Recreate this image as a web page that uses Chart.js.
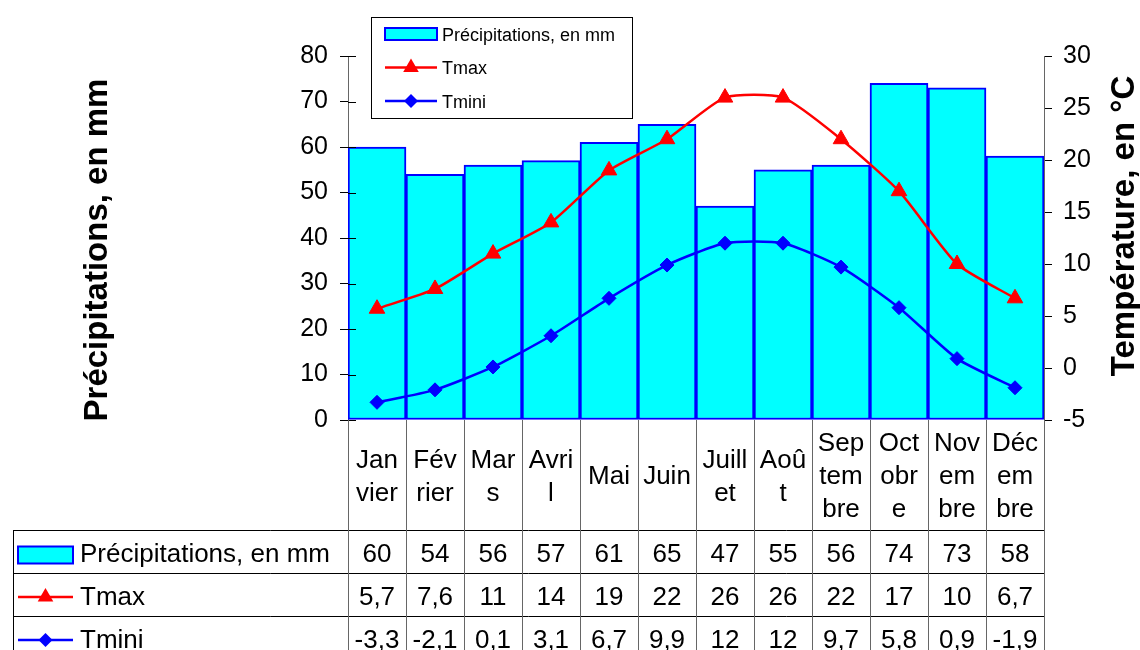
<!DOCTYPE html>
<html>
<head>
<meta charset="utf-8">
<script src="https://cdn.jsdelivr.net/npm/chart.js@4.4.1/dist/chart.umd.min.js"></script>
<style>
  html, body { margin: 0; padding: 0; background: #fff; overflow: hidden; }
  canvas { display: block; }
</style>
</head>
<body>
<canvas id="climat" width="1140" height="650"></canvas>
<script>
// Monthly climate normals
const months = ['Janvier', 'Février', 'Mars', 'Avril', 'Mai', 'Juin', 'Juillet', 'Août', 'Septembre', 'Octobre', 'Novembre', 'Décembre'];
// Month names as they wrap inside the narrow table columns
const monthLines = [['Jan', 'vier'], ['Fév', 'rier'], ['Mar', 's'], ['Avri', 'l'], ['Mai'], ['Juin'], ['Juill', 'et'], ['Aoû', 't'], ['Sep', 'tem', 'bre'], ['Oct', 'obr', 'e'], ['Nov', 'em', 'bre'], ['Déc', 'em', 'bre']];
const precipitations = [60, 54, 56, 57, 61, 65, 47, 55, 56, 74, 73, 58];
const tmax = [5.7, 7.6, 11, 14, 19, 22, 26, 26, 22, 17, 10, 6.7];
const tmini = [-3.3, -2.1, 0.1, 3.1, 6.7, 9.9, 12, 12, 9.7, 5.8, 0.9, -1.9];
const seriesNames = ['Précipitations, en mm', 'Tmax', 'Tmini'];
const precipRange = [0, 80, 10];
const tempRange = [-5, 30, 5];
const axisTitles = ['Précipitations, en mm', 'Température, en °C'];

const FONT = '"Liberation Sans", Arial, sans-serif';
const CYAN = '#00ffff', BLUE = '#0000ff', RED = '#ff0000';

function fmt(v) { return String(v).replace('.', ','); }

// Series keys (bar swatch, line + marker)
function drawKey(ctx, kind, x0, x1, y, h) {
  ctx.save();
  if (kind === 0) {
    ctx.fillStyle = CYAN;
    ctx.strokeStyle = BLUE;
    ctx.lineWidth = 2;
    ctx.fillRect(x0, y - h / 2, x1 - x0, h);
    ctx.strokeRect(x0, y - h / 2, x1 - x0, h);
  } else {
    const col = kind === 1 ? RED : BLUE;
    ctx.strokeStyle = col;
    ctx.fillStyle = col;
    ctx.lineWidth = 2.5;
    ctx.beginPath();
    ctx.moveTo(x0, y);
    ctx.lineTo(x1, y);
    ctx.stroke();
    const cx = (x0 + x1) / 2;
    ctx.beginPath();
    if (kind === 1) {
      ctx.moveTo(cx, y - 9);
      ctx.lineTo(cx + 7.8, y + 4.5);
      ctx.lineTo(cx - 7.8, y + 4.5);
    } else {
      ctx.moveTo(cx, y - 7);
      ctx.lineTo(cx + 7, y);
      ctx.lineTo(cx, y + 7);
      ctx.lineTo(cx - 7, y);
    }
    ctx.closePath();
    ctx.fill();
  }
  ctx.restore();
}

// Tick marks of the precipitation axis also reach inside the plot
const innerTicks = {
  id: 'innerTicks',
  afterDatasetsDraw(chart) {
    const ctx = chart.ctx, y = chart.scales.y, left = chart.chartArea.left;
    ctx.save();
    ctx.strokeStyle = '#000';
    ctx.lineWidth = 1;
    y.ticks.forEach(t => {
      const py = Math.round(y.getPixelForValue(t.value)) + 0.5;
      ctx.beginPath();
      ctx.moveTo(left, py);
      ctx.lineTo(left + 8, py);
      ctx.stroke();
    });
    ctx.restore();
  }
};

// Data table under the plot, legend box and axis titles
const decorations = {
  id: 'decorations',
  afterDraw(chart) {
    const ctx = chart.ctx, x = chart.scales.x, area = chart.chartArea;
    const half = (x.getPixelForValue(1) - x.getPixelForValue(0)) / 2;
    const top = area.bottom;
    const headerBottom = top + 110;
    const rowH = 43;
    const tableLeft = 13;
    const bottom = chart.height;

    ctx.save();
    // horizontal rules
    ctx.strokeStyle = '#000';
    ctx.lineWidth = 1;
    for (let r = 0; r < 3; r++) {
      const yy = Math.round(headerBottom + r * rowH) + 0.5;
      ctx.beginPath();
      ctx.moveTo(tableLeft, yy);
      ctx.lineTo(area.right, yy);
      ctx.stroke();
    }
    ctx.beginPath();
    ctx.moveTo(tableLeft + 0.5, headerBottom);
    ctx.lineTo(tableLeft + 0.5, bottom);
    ctx.stroke();
    // column separators
    ctx.strokeStyle = '#666';
    for (let i = 0; i <= months.length; i++) {
      const xx = Math.round(x.getPixelForValue(i) - half) + 0.5;
      ctx.beginPath();
      ctx.moveTo(xx, top);
      ctx.lineTo(xx, bottom);
      ctx.stroke();
    }

    ctx.fillStyle = '#000';
    ctx.textAlign = 'center';
    ctx.textBaseline = 'alphabetic';
    ctx.font = '26px ' + FONT;
    // month headers
    monthLines.forEach((lines, i) => {
      const cx = x.getPixelForValue(i);
      lines.forEach((s, k) => {
        ctx.fillText(s, cx, top + 64 + (k - (lines.length - 1) / 2) * 33);
      });
    });
    // values
    [precipitations, tmax, tmini].forEach((vals, r) => {
      const base = headerBottom + r * rowH + 32;
      vals.forEach((v, i) => ctx.fillText(fmt(v), x.getPixelForValue(i), base));
    });
    // row keys
    ctx.textAlign = 'left';
    seriesNames.forEach((name, r) => {
      const cy = headerBottom + r * rowH + 22;
      drawKey(ctx, r, 18, 73, cy + (r === 0 ? 3 : 2), 17);
      ctx.fillStyle = '#000';
      ctx.fillText(name, 80, headerBottom + r * rowH + 32);
    });

    // legend box
    ctx.strokeStyle = '#000';
    ctx.lineWidth = 1;
    ctx.fillStyle = '#fff';
    ctx.fillRect(371, 17, 261, 101);
    ctx.strokeRect(371.5, 17.5, 261, 101);
    ctx.font = '18px ' + FONT;
    seriesNames.forEach((name, r) => {
      const cy = 34 + r * 33.5;
      drawKey(ctx, r, 385, 437, cy, 12);
      ctx.fillStyle = '#000';
      ctx.fillText(name, 442, cy + 6.5);
    });

    // axis titles
    ctx.font = 'bold 33px ' + FONT;
    ctx.textAlign = 'center';
    ctx.textBaseline = 'middle';
    ctx.save();
    ctx.translate(98, 250);
    ctx.rotate(-Math.PI / 2);
    ctx.fillText(axisTitles[0], 0, 0);
    ctx.restore();
    ctx.save();
    ctx.translate(1125, 226);
    ctx.rotate(-Math.PI / 2);
    ctx.fillText(axisTitles[1], 0, 0);
    ctx.restore();
    ctx.restore();
  }
};

const tickFont = { family: FONT, size: 25 };

new Chart(document.getElementById('climat'), {
  type: 'bar',
  data: {
    labels: months,
    datasets: [
      {
        type: 'line',
        label: seriesNames[1],
        data: tmax,
        yAxisID: 'y2',
        borderColor: RED,
        backgroundColor: RED,
        borderWidth: 2.5,
        pointStyle: 'triangle',
        pointRadius: 9,
        pointBorderWidth: 1,
        tension: 0.2,
        order: 0
      },
      {
        type: 'line',
        label: seriesNames[2],
        data: tmini,
        yAxisID: 'y2',
        borderColor: BLUE,
        backgroundColor: BLUE,
        borderWidth: 2.5,
        pointStyle: 'rectRot',
        pointRadius: 7,
        pointBorderWidth: 1,
        tension: 0.2,
        order: 0
      },
      {
        type: 'bar',
        label: seriesNames[0],
        data: precipitations,
        yAxisID: 'y',
        backgroundColor: CYAN,
        borderColor: BLUE,
        borderWidth: 2,
        borderSkipped: false,
        categoryPercentage: 1,
        barPercentage: 1,
        order: 1
      }
    ]
  },
  options: {
    responsive: false,
    animation: false,
    devicePixelRatio: 1,
    layout: { padding: { left: 0, right: 0, top: 56, bottom: 230 } },
    plugins: { legend: { display: false }, tooltip: { enabled: false } },
    scales: {
      x: { display: false, offset: true },
      y: {
        position: 'left',
        min: precipRange[0], max: precipRange[1],
        ticks: { stepSize: precipRange[2], font: tickFont, color: '#000', padding: 12 },
        grid: { drawOnChartArea: false, drawTicks: true, tickLength: 8, color: '#000' },
        border: { display: true, color: '#666', width: 1 },
        afterFit(scale) { scale.width = 348; }
      },
      y2: {
        position: 'right',
        min: tempRange[0], max: tempRange[1],
        ticks: { stepSize: tempRange[2], font: tickFont, color: '#000', padding: 11 },
        grid: { drawOnChartArea: false, drawTicks: true, tickLength: 8, color: '#000' },
        border: { display: true, color: '#666', width: 1 },
        afterFit(scale) { scale.width = 96; }
      }
    }
  },
  plugins: [innerTicks, decorations]
});
</script>
</body>
</html>
